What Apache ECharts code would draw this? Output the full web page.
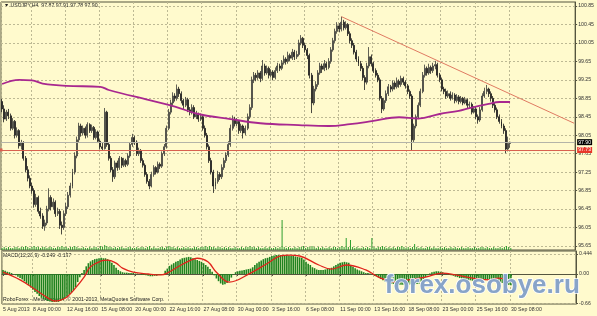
<!DOCTYPE html>
<html><head><meta charset="utf-8">
<script src="https://cdn.jsdelivr.net/npm/echarts@6/dist/echarts.min.js"></script>
<style>html,body{margin:0;padding:0;background:#FFFACD;}#c{width:597px;height:316px;}</style>
</head><body><div id="c"></div>
<script>
// H4 bars: [open, high, low, close]
const ohlc = [
[98.78,98.84,98.55,98.62],[98.62,98.70,98.33,98.40],[98.40,98.60,98.36,98.55],[98.55,98.62,98.40,98.47],[98.47,98.52,98.15,98.20],
[98.20,98.42,98.16,98.35],[98.35,98.38,97.98,98.05],[98.05,98.22,98.00,98.15],[98.15,98.18,97.76,97.82],[97.82,97.95,97.74,97.88],
[97.88,97.92,97.50,97.55],[97.55,97.60,97.25,97.30],[97.30,97.38,97.05,97.12],[97.12,97.18,96.90,96.95],[96.95,97.02,96.78,96.85],
[96.85,96.90,96.48,96.55],[96.55,96.78,96.50,96.70],[96.70,96.74,96.35,96.40],[96.40,96.48,96.24,96.30],[96.30,96.36,96.02,96.08],
[96.08,96.22,95.98,96.15],[96.15,96.52,96.10,96.45],[96.45,96.90,96.40,96.70],[96.70,96.75,96.42,96.50],[96.50,96.68,96.44,96.60],
[96.60,96.64,96.28,96.35],[96.35,96.48,96.30,96.40],[96.40,96.45,96.02,96.10],[96.10,96.18,95.90,96.05],[96.05,96.42,96.00,96.35],
[96.35,96.58,96.30,96.50],[96.50,96.82,96.45,96.75],[96.75,97.02,96.70,96.95],[96.95,97.32,96.90,97.25],[97.25,97.68,97.20,97.60],
[97.60,98.02,97.55,97.95],[97.95,98.32,97.90,98.25],[98.25,98.30,98.02,98.10],[98.10,98.26,98.05,98.20],[98.20,98.24,97.98,98.05],
[98.05,98.33,98.00,98.28],[98.28,98.31,98.10,98.15],[98.15,98.28,98.10,98.22],[98.22,98.25,97.95,98.00],[98.00,98.18,97.96,98.12],
[98.12,98.15,97.88,97.92],[97.92,97.96,97.74,97.80],[97.80,97.88,97.72,97.76],[97.76,98.64,97.74,98.55],[98.55,98.58,97.80,97.85],
[97.85,97.90,97.50,97.55],[97.55,97.60,97.25,97.30],[97.30,97.36,97.04,97.15],[97.15,97.50,97.10,97.45],[97.45,97.50,97.28,97.35],
[97.35,97.60,97.30,97.55],[97.55,97.58,97.34,97.40],[97.40,97.56,97.36,97.50],[97.50,97.54,97.36,97.42],[97.42,97.66,97.38,97.60],
[97.60,97.90,97.56,97.85],[97.85,98.08,97.80,98.00],[98.00,98.04,97.84,97.90],[97.90,97.94,97.60,97.65],[97.65,97.78,97.60,97.72],
[97.72,97.75,97.45,97.50],[97.50,97.55,97.35,97.40],[97.40,97.44,97.15,97.20],[97.20,97.25,97.00,97.05],[97.05,97.10,96.88,96.95],
[96.95,97.26,96.92,97.20],[97.20,97.40,97.15,97.35],[97.35,97.38,97.20,97.25],[97.25,97.48,97.22,97.42],[97.42,97.46,97.32,97.38],
[97.38,97.70,97.34,97.65],[97.65,97.86,97.60,97.80],[97.80,98.26,97.76,98.20],[98.20,98.62,98.16,98.55],[98.55,98.82,98.50,98.75],
[98.75,98.98,98.70,98.90],[98.90,98.96,98.78,98.85],[98.85,99.15,98.80,99.05],[99.05,99.10,98.88,98.95],[98.95,99.00,98.74,98.80],
[98.80,98.84,98.62,98.70],[98.70,98.88,98.66,98.82],[98.82,98.86,98.55,98.60],[98.60,98.66,98.48,98.55],[98.55,98.72,98.50,98.65],
[98.65,98.70,98.40,98.45],[98.45,98.58,98.40,98.50],[98.50,98.54,98.34,98.40],[98.40,98.52,98.36,98.45],[98.45,98.48,98.15,98.20],
[98.20,98.26,98.00,98.05],[98.05,98.10,97.74,97.80],[97.80,97.85,97.45,97.50],[97.50,97.56,97.20,97.25],[97.25,97.30,96.80,96.95],
[96.95,97.12,96.88,97.05],[97.05,97.28,97.00,97.20],[97.20,97.25,97.08,97.15],[97.15,97.42,97.10,97.35],[97.35,97.56,97.30,97.50],
[97.50,97.68,97.45,97.62],[97.62,97.92,97.58,97.85],[97.85,98.28,97.80,98.20],[98.20,98.48,98.15,98.40],[98.40,98.45,98.24,98.30],
[98.30,98.42,98.25,98.35],[98.35,98.38,98.08,98.15],[98.15,98.30,98.10,98.25],[98.25,98.28,97.98,98.10],[98.10,98.26,98.05,98.20],
[98.20,98.52,98.16,98.45],[98.45,98.72,98.40,98.65],[98.65,99.32,98.60,99.25],[99.25,99.42,99.18,99.35],[99.35,99.40,99.22,99.30],
[99.30,99.46,99.25,99.40],[99.40,99.44,99.20,99.28],[99.28,99.68,99.24,99.55],[99.55,99.60,99.34,99.40],[99.40,99.56,99.36,99.50],
[99.50,99.54,99.28,99.35],[99.35,99.48,99.30,99.42],[99.42,99.46,99.24,99.30],[99.30,99.52,99.26,99.45],[99.45,99.62,99.40,99.55],
[99.55,99.60,99.44,99.50],[99.50,99.68,99.46,99.62],[99.62,99.78,99.58,99.70],[99.70,99.74,99.58,99.65],[99.65,99.86,99.60,99.78],
[99.78,99.82,99.66,99.72],[99.72,99.92,99.68,99.85],[99.85,99.90,99.68,99.75],[99.75,99.88,99.70,99.80],[99.80,100.12,99.76,100.05],
[100.05,100.22,100.00,100.15],[100.15,100.18,99.94,100.00],[100.00,100.05,99.84,99.90],[99.90,99.94,99.70,99.78],[99.78,99.82,99.28,99.35],
[99.35,99.40,98.53,98.75],[98.75,99.12,98.70,99.05],[99.05,99.22,99.00,99.15],[99.15,99.46,99.10,99.40],[99.40,99.62,99.36,99.55],
[99.55,99.60,99.40,99.48],[99.48,99.68,99.44,99.60],[99.60,99.64,99.46,99.52],[99.52,99.72,99.48,99.65],[99.65,99.96,99.60,99.90],
[99.90,100.16,99.86,100.10],[100.10,100.36,100.05,100.30],[100.30,100.50,100.25,100.42],[100.42,100.48,100.28,100.35],[100.35,100.62,100.30,100.50],
[100.50,100.55,100.32,100.38],[100.38,100.52,100.34,100.45],[100.45,100.48,100.20,100.25],[100.25,100.30,100.04,100.10],[100.10,100.15,99.94,100.00],
[100.00,100.05,99.80,99.85],[99.85,99.90,99.64,99.70],[99.70,99.76,99.55,99.60],[99.60,99.66,99.44,99.50],[99.50,99.55,99.24,99.30],
[99.30,99.35,99.03,99.20],[99.20,99.62,99.15,99.55],[99.55,99.96,99.50,99.75],[99.75,99.80,99.54,99.60],[99.60,99.64,99.40,99.45],
[99.45,99.50,99.30,99.35],[99.35,99.40,99.20,99.25],[99.25,99.30,98.80,98.85],[98.85,98.90,98.53,98.62],[98.62,98.86,98.58,98.80],
[98.80,99.02,98.75,98.95],[98.95,99.16,98.90,99.10],[99.10,99.14,98.98,99.05],[99.05,99.24,99.00,99.18],[99.18,99.22,99.04,99.10],
[99.10,99.30,99.06,99.22],[99.22,99.26,99.08,99.15],[99.15,99.34,99.10,99.28],[99.28,99.32,99.14,99.20],[99.20,99.24,99.06,99.12],
[99.12,99.16,98.94,99.00],[99.00,99.04,98.84,98.90],[98.90,98.94,97.73,97.95],[97.95,98.30,97.90,98.25],[98.25,98.50,98.20,98.45],
[98.45,98.76,98.40,98.70],[98.70,99.06,98.66,99.00],[99.00,99.42,98.96,99.35],[99.35,99.58,99.30,99.50],[99.50,99.54,99.34,99.40],
[99.40,99.60,99.36,99.52],[99.52,99.56,99.38,99.45],[99.45,99.62,99.40,99.55],[99.55,99.66,99.48,99.58],[99.58,99.62,99.30,99.35],
[99.35,99.40,99.20,99.25],[99.25,99.30,99.00,99.05],[99.05,99.10,98.94,99.00],[99.00,99.06,98.84,98.90],[98.90,99.02,98.86,98.95],
[98.95,99.00,98.80,98.85],[98.85,98.98,98.82,98.92],[98.92,98.96,98.74,98.80],[98.80,98.94,98.76,98.88],[98.88,98.92,98.72,98.78],
[98.78,98.90,98.74,98.85],[98.85,98.88,98.70,98.75],[98.75,98.88,98.72,98.82],[98.82,98.85,98.64,98.70],[98.70,98.78,98.62,98.72],
[98.72,98.76,98.50,98.55],[98.55,98.68,98.52,98.62],[98.62,98.66,98.40,98.45],[98.45,98.50,98.30,98.38],[98.38,98.66,98.34,98.60],
[98.60,98.96,98.56,98.90],[98.90,99.08,98.86,99.00],[99.00,99.14,98.94,99.05],[99.05,99.08,98.88,98.95],[98.95,99.00,98.78,98.85],
[98.85,98.90,98.64,98.70],[98.70,98.76,98.54,98.60],[98.60,98.65,98.40,98.45],[98.45,98.50,98.30,98.35],[98.35,98.40,98.20,98.25],
[98.25,98.30,98.08,98.15],[98.15,98.20,97.66,97.75],[97.75,98.02,97.70,97.87],[97.87,97.91,97.78,97.90]
];
// moving average read at sample bars: [barIndex, value]
const maPoints = [[0,99.16],[8,99.25],[14,99.24],[19,99.17],[30,99.12],[46,99.10],[50,99.03],[69,98.81],[81,98.67],[92,98.51],[107,98.40],[121,98.31],[139,98.27],[153,98.25],[163,98.29],[174,98.36],[186,98.44],[195,98.41],[205,98.51],[214,98.58],[219,98.64],[228,98.73],[233,98.77],[238,98.77]];
const volumes = [
2,3,2,3,2,2,3,3,2,3,3,4,3,2,3,4,3,3,2,3,
3,2,3,3,2,2,3,3,4,3,3,2,3,3,4,3,2,2,3,2,
2,3,2,3,3,2,4,3,5,4,3,3,2,3,2,3,3,2,2,3,
3,2,2,3,2,3,3,2,3,4,2,3,2,2,3,3,2,3,4,3,
3,2,3,2,2,3,2,3,2,2,3,3,2,3,3,4,3,4,3,3,
2,3,3,2,3,2,3,2,2,3,2,2,3,2,3,3,4,3,3,2,
3,2,2,3,2,3,2,2,3,2,3,30,3,2,3,2,2,3,2,3,
3,4,2,3,3,4,3,2,3,2,3,2,2,3,2,3,3,2,3,4,
3,12,3,10,3,2,3,2,2,3,2,3,2,12,3,2,3,3,4,3,
2,3,2,3,2,3,3,4,3,2,3,2,3,6,3,2,3,2,2,3,
3,2,3,2,2,3,2,3,2,2,3,2,3,2,2,3,2,2,3,2,
2,3,2,2,3,3,2,3,2,2,3,2,2,3,2,3,4,3,2];
const macdMain = [
0.09,0.07,0.05,0.04,0.02,0.00,-0.03,-0.06,-0.09,-0.12,
-0.16,-0.20,-0.25,-0.30,-0.35,-0.40,-0.44,-0.49,-0.53,-0.56,
-0.58,-0.60,-0.61,-0.62,-0.62,-0.62,-0.62,-0.60,-0.58,-0.54,
-0.50,-0.46,-0.42,-0.36,-0.29,-0.18,-0.07,0.02,0.09,0.17,
0.24,0.28,0.31,0.33,0.34,0.35,0.36,0.35,0.35,0.33,
0.29,0.25,0.20,0.14,0.09,0.06,0.04,0.03,0.03,0.02,
0.02,0.02,0.01,0.01,0.00,-0.01,-0.02,-0.03,-0.04,-0.05,
-0.05,-0.04,-0.04,-0.02,-0.01,0.00,0.07,0.12,0.18,0.21,
0.24,0.27,0.29,0.32,0.35,0.36,0.37,0.38,0.37,0.35,
0.33,0.31,0.29,0.27,0.24,0.20,0.16,0.11,0.05,-0.03,
-0.10,-0.16,-0.21,-0.24,-0.23,-0.20,-0.16,-0.08,-0.01,0.04,
0.06,0.07,0.08,0.09,0.10,0.11,0.12,0.15,0.20,0.24,
0.27,0.30,0.33,0.35,0.36,0.38,0.40,0.41,0.42,0.42,
0.42,0.42,0.42,0.42,0.41,0.40,0.40,0.39,0.38,0.37,
0.36,0.32,0.27,0.23,0.20,0.15,0.13,0.10,0.09,0.09,
0.09,0.10,0.11,0.12,0.14,0.17,0.20,0.23,0.25,0.26,
0.27,0.26,0.25,0.20,0.16,0.13,0.10,0.08,0.06,0.04,
0.02,0.02,0.01,0.00,-0.02,-0.05,-0.08,-0.11,-0.14,-0.17,
-0.19,-0.21,-0.22,-0.22,-0.23,-0.24,-0.24,-0.24,-0.24,-0.24,
-0.24,-0.23,-0.24,-0.23,-0.22,-0.21,-0.17,-0.11,-0.07,-0.03,
0.01,0.04,0.05,0.06,0.06,0.05,0.04,0.02,0.00,-0.01,
-0.03,-0.04,-0.06,-0.07,-0.09,-0.10,-0.11,-0.12,-0.13,-0.14,
-0.15,-0.15,-0.16,-0.16,-0.16,-0.14,-0.13,-0.12,-0.12,-0.13,
-0.15,-0.17,-0.18,-0.19,-0.20,-0.21,-0.23,-0.24,-0.249];
// signal line read at sample bars: [barIndex, value]
const macdSignal = [[0,0.04],[8,-0.13],[14,-0.31],[21,-0.53],[24,-0.60],[27,-0.58],[30,-0.51],[34,-0.31],[38,-0.07],[41,0.16],[46,0.29],[49,0.31],[53,0.24],[56,0.13],[61,0.04],[68,0.00],[74,-0.02],[77,0.02],[82,0.16],[88,0.31],[91,0.35],[96,0.27],[100,0.04],[106,-0.18],[116,0.02],[124,0.24],[130,0.40],[134,0.42],[139,0.40],[148,0.20],[154,0.11],[161,0.20],[170,0.09],[176,-0.07],[184,-0.18],[190,-0.13],[198,-0.07],[206,0.02],[212,-0.02],[220,-0.09],[228,-0.13],[232,-0.09],[238,-0.137]];
const priceTicks = [95.65,96.05,96.45,96.85,97.25,97.65,98.05,98.45,98.85,99.25,99.65,100.05,100.45,100.85];
const macdTicks = [0.444,0,-0.66];
const macdTickLabels = ['0.444','0.00','-0.66'];
const timeLabels = ['5 Aug 2013','8 Aug 00:00','12 Aug 16:00','15 Aug 08:00','20 Aug 00:00','22 Aug 16:00','27 Aug 08:00','30 Aug 00:00','3 Sep 16:00','6 Sep 08:00','11 Sep 00:00','13 Sep 16:00','18 Sep 08:00','23 Sep 00:00','25 Sep 16:00','30 Sep 08:00'];
const timeLabelBars = [0,14,30,46,62,78,94,110,126,142,158,174,190,206,222,238];
const bidPrice = 97.90;
const levelPrice = 97.73;
const trendLine = [[159,100.62],[268,98.31]];
const titleText = '\u25BC USDJPY,H4  97.87 97.91 97.78 97.90';
const macdTitle = 'MACD(12,26,9) -0.249 -0.137';
const copyright = 'RoboForex - MetaTrader 4, \u00A9 2001-2013, MetaQuotes Software Corp.';
const watermark = 'forex.osobye.ru';

// H4 time categories (weekdays only), plus empty space on the right
const categories = [];
let t = Date.UTC(2013,7,5,16);
while (categories.length < 269) {
  const d = new Date(t);
  const wd = d.getUTCDay();
  if (wd !== 0 && wd !== 6) categories.push(d.toISOString().slice(0,16).replace('T',' '));
  t += 4*3600*1000;
}
const isLabelBar = (i) => timeLabelBars.indexOf(i) >= 0;
const FONT = 'Liberation Sans';
const gridLine = {show:true, lineStyle:{color:'#bdb994', type:[2,2], width:1}};
const chart = echarts.init(document.getElementById('c'), null, {renderer:'canvas'});
const candleData = ohlc.map(b => [b[0], b[3], b[2], b[1]]);
chart.setOption({
  animation:false,
  backgroundColor:'#FFFACD',
  grid:[
    {left:1, right:21, top:2, height:248, show:true, borderColor:'#55553f', borderWidth:1},
    {left:1, right:21, top:200, height:50},
    {left:1, right:21, top:251, height:53, show:true, borderColor:'#55553f', borderWidth:1}
  ],
  xAxis:[
    {type:'category', gridIndex:0, data:categories, boundaryGap:true, axisLine:{show:false}, axisTick:{show:false}, axisLabel:{show:false},
     splitLine:Object.assign({interval:(i)=>isLabelBar(i)}, gridLine)},
    {type:'category', gridIndex:1, data:categories, boundaryGap:true, show:false},
    {type:'category', gridIndex:2, data:categories, boundaryGap:true,
     axisLine:{show:true, lineStyle:{color:'#55553f'}},
     axisTick:{show:true, interval:(i)=>isLabelBar(i), alignWithLabel:true, length:2, lineStyle:{color:'#55553f'}},
     axisLabel:{show:true, interval:(i)=>isLabelBar(i), formatter:(v,i)=>timeLabels[timeLabelBars.indexOf(i)] || '', align:'left', fontSize:5.2, fontFamily:FONT, color:'#333', margin:3},
     splitLine:Object.assign({interval:(i)=>isLabelBar(i)}, gridLine)}
  ],
  yAxis:[
    {type:'value', gridIndex:0, position:'right', min:95.563, max:100.937, scale:true,
     axisLine:{show:true, lineStyle:{color:'#55553f'}},
     axisTick:{show:true, customValues:priceTicks, length:2, lineStyle:{color:'#55553f'}},
     axisLabel:{customValues:priceTicks, formatter:(v)=>v.toFixed(2), fontSize:5.2, fontFamily:FONT, color:'#333', margin:3},
     splitLine:gridLine},
    {type:'value', gridIndex:1, min:0, max:50, show:false},
    {type:'value', gridIndex:2, position:'right', min:-0.667, max:0.511,
     axisLine:{show:true, lineStyle:{color:'#55553f'}},
     axisTick:{show:true, customValues:macdTicks, length:2, lineStyle:{color:'#55553f'}},
     axisLabel:{customValues:macdTicks, formatter:(v)=>macdTickLabels[macdTicks.indexOf(v)] || '', fontSize:5.2, fontFamily:FONT, color:'#333', margin:3},
     splitLine:gridLine}
  ],
  series:[
    {type:'bar', xAxisIndex:1, yAxisIndex:1, data:volumes, barWidth:1, itemStyle:{color:'#2f9e2f'}, silent:true},
    {type:'candlestick', xAxisIndex:0, yAxisIndex:0, data:candleData, barWidth:'70%',
     itemStyle:{color:'#8e8e84', color0:'#1c1c1c', borderColor:'#3a3a36', borderColor0:'#1c1c1c', borderWidth:0.8},
     markLine:{silent:true, symbol:['none','none'], animation:false,
       data:[
         {yAxis:bidPrice, lineStyle:{color:'#b4b4a8', width:1, type:'solid'},
          label:{show:true, position:'end', formatter:bidPrice.toFixed(2), backgroundColor:'#000', color:'#fff', fontSize:5.2, fontFamily:FONT, padding:[1,1,0,1], distance:2}},
         {yAxis:levelPrice, symbol:['none','emptyRect'], symbolSize:3, lineStyle:{color:'#d9614f', width:1, type:'solid'},
          label:{show:true, position:'end', formatter:levelPrice.toFixed(2), backgroundColor:'#e8372a', color:'#fff', fontSize:5.2, fontFamily:FONT, padding:[1,1,0,1], distance:2}},
         [{coord:trendLine[0], lineStyle:{color:'#e07a62', width:1, type:'solid'}, label:{show:false}}, {coord:trendLine[1]}]
       ]}},
    {type:'line', xAxisIndex:0, yAxisIndex:0, data:maPoints, smooth:0.4, showSymbol:false, lineStyle:{color:'#a8278f', width:1.8}, silent:true},
    {type:'bar', xAxisIndex:2, yAxisIndex:2, data:macdMain, barWidth:'75%', itemStyle:{color:'#1f821f'}, silent:true},
    {type:'line', xAxisIndex:2, yAxisIndex:2, data:macdSignal, smooth:0.4, showSymbol:false, lineStyle:{color:'#e0231b', width:1.3}, silent:true}
  ],
  graphic:[
    {type:'text', left:4, top:3, silent:true, style:{text:titleText, fontSize:5.2, fontFamily:FONT, fill:'#222'}},
    {type:'text', left:3, top:253, silent:true, style:{text:macdTitle, fontSize:5.2, fontFamily:FONT, fill:'#222'}},
    {type:'text', left:3, top:297, silent:true, style:{text:copyright, fontSize:5.2, fontFamily:FONT, fill:'#222'}},
    {type:'text', left:385, top:273, silent:true, z:99, style:{text:watermark, fontSize:26, fontWeight:'bold', fontFamily:FONT, fill:'#4f6078'}},
    {type:'text', left:384, top:272, silent:true, z:100, style:{text:watermark, fontSize:26, fontWeight:'bold', fontFamily:FONT, fill:'#88a4c8', stroke:'#ffffff', lineWidth:1.5}}
  ]
});
</script>
</body></html>
